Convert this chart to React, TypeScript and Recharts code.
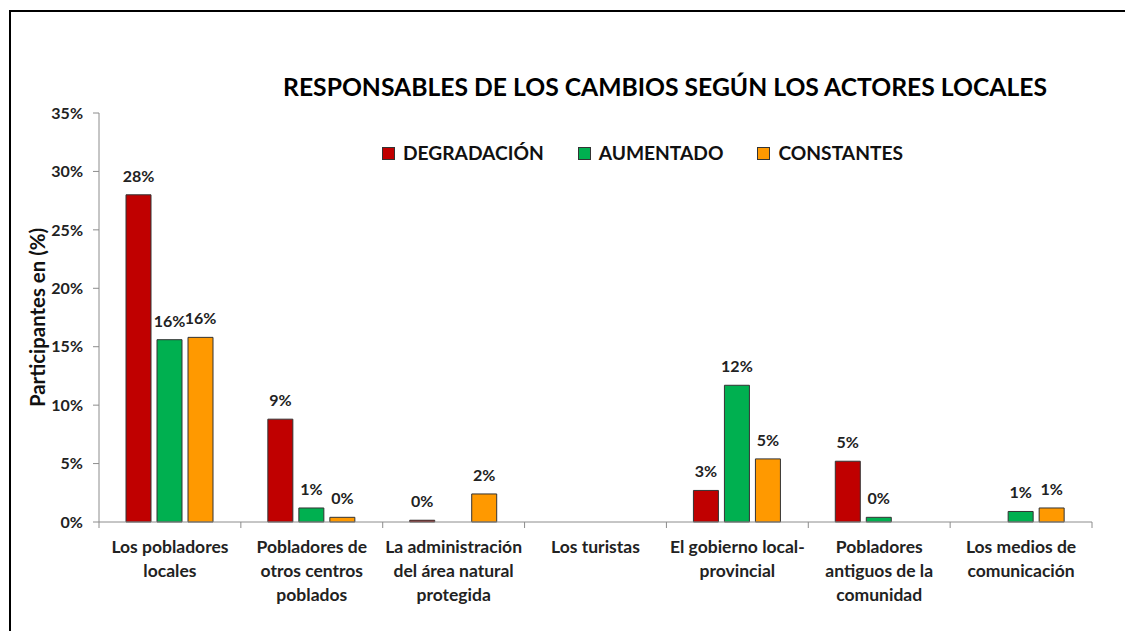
import { BarChart, Bar, XAxis, YAxis, Legend, LabelList } from "recharts";

// categories (line breaks as in the original axis labels)
const CATEGORIES = [
  "Los pobladores\nlocales",
  "Pobladores de\notros centros\npoblados",
  "La administración\ndel área natural\nprotegida",
  "Los turistas",
  "El gobierno local-\nprovincial",
  "Pobladores\nantiguos de la\ncomunidad",
  "Los medios de\ncomunicación",
];

// % of participants
const DEGRADACION = [28.0, 8.8, 0.15, null, 2.7, 5.2, null];
const AUMENTADO = [15.6, 1.2, null, null, 11.7, 0.4, 0.9];
const CONSTANTES = [15.8, 0.4, 2.4, null, 5.4, null, 1.2];

const Y_TICKS = [0, 5, 10, 15, 20, 25, 30, 35];

const SERIES = [
  { key: "degradacion", label: "DEGRADACIÓN", color: "#C00000" },
  { key: "aumentado", label: "AUMENTADO", color: "#00B050" },
  { key: "constantes", label: "CONSTANTES", color: "#FF9900" },
];

const FONT = "Lato, 'Open Sans', sans-serif";
const AXIS_GREY = "#8c8c8c";

const data = CATEGORIES.map((name, i) => ({
  name,
  degradacion: DEGRADACION[i],
  aumentado: AUMENTADO[i],
  constantes: CONSTANTES[i],
}));

const pct = (v: any) => (v == null ? "" : `${Math.round(Number(v))}%`);

function CategoryTick(props: any) {
  const { x, y, payload, index, visibleTicksCount } = props;
  const lines = String(payload.value).split("\n");
  const half = payload.offset ?? 0;
  const isLast = index === (visibleTicksCount ?? CATEGORIES.length) - 1;
  return (
    <g>
      <line x1={x - half} x2={x - half} y1={y - 8} y2={y - 2} stroke={AXIS_GREY} />
      {isLast && <line x1={x + half} x2={x + half} y1={y - 8} y2={y - 2} stroke={AXIS_GREY} />}
      <text
        x={x}
        y={y + 23}
        textAnchor="middle"
        fill="#222"
        style={{ fontFamily: FONT, fontWeight: 700, fontSize: 17.5 }}
      >
        {lines.map((l, i) => (
          <tspan key={i} x={x} dy={i === 0 ? 0 : 24}>
            {l}
          </tspan>
        ))}
      </text>
    </g>
  );
}

function LegendContent() {
  return (
    <div
      style={{
        display: "flex",
        gap: 34,
        fontFamily: FONT,
        fontWeight: 700,
        fontSize: 19.2,
        lineHeight: "22px",
        color: "#111",
        whiteSpace: "nowrap",
      }}
    >
      {SERIES.map((s) => (
        <div key={s.key} style={{ display: "flex", alignItems: "center", gap: 8 }}>
          <span
            style={{
              display: "inline-block",
              width: 11,
              height: 11,
              background: s.color,
              border: "1px solid #333",
            }}
          />
          <span>{s.label}</span>
        </div>
      ))}
    </div>
  );
}

function YLabel(props: any) {
  const vb = props.viewBox;
  const cx = vb.x + 37;
  const cy = vb.y + vb.height / 2;
  return (
    <text
      x={cx}
      y={cy}
      textAnchor="middle"
      dominantBaseline="central"
      transform={`rotate(-90, ${cx}, ${cy})`}
      fill="#111"
      style={{ fontFamily: FONT, fontWeight: 700, fontSize: 20.4 }}
    >
      Participantes en (%)
    </text>
  );
}

export default function App() {
  return (
    <div
      style={{
        position: "absolute",
        left: 0,
        top: 0,
        width: 1125,
        height: 631,
        overflow: "hidden",
        background: "#fff",
      }}
    >
      <div
        style={{
          position: "absolute",
          left: 9,
          top: 10,
          width: 1200,
          height: 700,
          border: "2px solid #000",
        }}
      />
      <div
        style={{
          position: "absolute",
          left: 0,
          width: 1330,
          top: 72,
          textAlign: "center",
          fontFamily: FONT,
          fontWeight: 700,
          fontSize: 24.7,
          color: "#000",
          whiteSpace: "nowrap",
        }}
      >
        RESPONSABLES DE LOS CAMBIOS SEGÚN LOS ACTORES LOCALES
      </div>
      <div style={{ position: "absolute", left: 0, top: 0 }}>
        <BarChart
          width={1125}
          height={631}
          data={data}
          margin={{ top: 113, right: 33, left: 0, bottom: 0 }}
          barCategoryGap={27}
          barGap={6}
        >
          <XAxis
            dataKey="name"
            height={109}
            interval={0}
            axisLine={{ stroke: AXIS_GREY }}
            tickLine={false}
            tick={<CategoryTick />}
          />
          <YAxis
            width={99}
            domain={[0, 35]}
            ticks={Y_TICKS}
            interval={0}
            tickFormatter={(v) => `${v}%`}
            axisLine={{ stroke: AXIS_GREY }}
            tickLine={{ stroke: AXIS_GREY }}
            tickSize={6}
            tickMargin={10}
            tick={{ fill: "#222", fontFamily: FONT, fontWeight: 700, fontSize: 16 }}
            label={{ content: <YLabel /> }}
          />
          <Legend
            layout="horizontal"
            verticalAlign="middle"
            align="center"
            content={<LegendContent />}
            wrapperStyle={{ position: "absolute", top: 142, left: 382, width: "auto" }}
          />
          {SERIES.map((s) => (
            <Bar
              key={s.key}
              dataKey={s.key}
              name={s.label}
              fill={s.color}
              stroke="#333"
              strokeWidth={1}
              isAnimationActive={false}
            >
              <LabelList
                dataKey={s.key}
                position="top"
                offset={13}
                formatter={pct}
                style={{ fill: "#222", fontFamily: FONT, fontWeight: 700, fontSize: 16 }}
              />
            </Bar>
          ))}
        </BarChart>
      </div>
    </div>
  );
}
